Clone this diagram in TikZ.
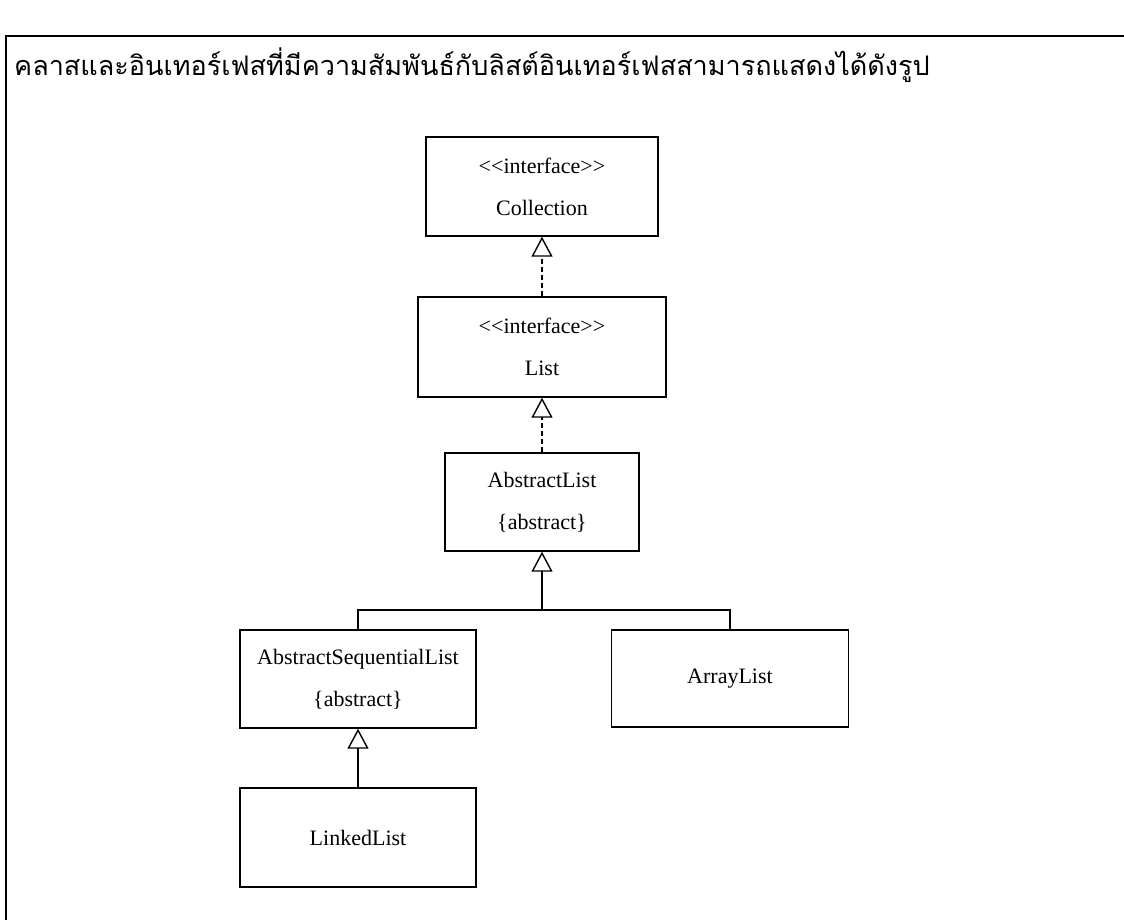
\documentclass[tikz,border=0pt]{standalone}
\usepackage{fontspec}
\setmainfont{Liberation Serif}
\newfontfamily\thaifont[Script=Thai]{Loma}
\usetikzlibrary{arrows.meta}
\newcommand\stereo[1]{<\kern0pt<#1>\kern0pt>}
\tikzset{
  umlbox/.style={draw, line width=1.4pt, inner sep=0pt, align=center,
    font=\fontsize{22}{42}\selectfont},
  realize/.style={line width=1.4pt, dash pattern=on 5pt off 3pt,
    -{Triangle[open, length=20pt, width=21pt, line width=1.4pt]}},
  extend/.style={line width=1.4pt,
    -{Triangle[open, length=20pt, width=21pt, line width=1.4pt]}},
  tree/.style={line width=1.4pt}
}
\begin{document}
\begin{tikzpicture}[x=1pt, y=-1pt]
\useasboundingbox (0,0) rectangle (1124,920);
% frame and caption
\draw[tree] (6,920) |- (1124,36);
\node[anchor=base west, inner sep=0pt, font=\thaifont\fontsize{27}{30}\selectfont] (caption) at (14,76)
  {คลาสและอินเทอร์เฟสที่มีความสัมพันธ์กับลิสต์อินเทอร์เฟสสามารถแสดงได้ดังรูป};
% classes
\node[umlbox, minimum width=232pt, minimum height=99pt] (Collection) at (542,186.5) {\stereo{interface}\\Collection};
\node[umlbox, minimum width=248pt, minimum height=100pt] (List) at (542,347) {\stereo{interface}\\List};
\node[umlbox, minimum width=194pt, minimum height=98pt] (AbstractList) at (542,502) {AbstractList\\\{abstract\}};
\node[umlbox, minimum width=236pt, minimum height=98pt] (SeqList) at (358,679) {AbstractSequentialList\\\{abstract\}};
\node[umlbox, minimum width=237pt, minimum height=97pt] (ArrayList) at (730,678.5) {ArrayList};
\node[umlbox, minimum width=236pt, minimum height=99pt] (LinkedList) at (358,837.5) {LinkedList};
% relations
\draw[realize] (List.north) -- (Collection.south);
\draw[realize] (AbstractList.north) -- (List.south);
\coordinate (fork) at (542,610);
\draw[tree] (SeqList.north) |- (fork) -| (ArrayList.north);
\draw[extend] (fork) -- (AbstractList.south);
\draw[extend] (LinkedList.north) -- (SeqList.south);
\end{tikzpicture}
\end{document}
